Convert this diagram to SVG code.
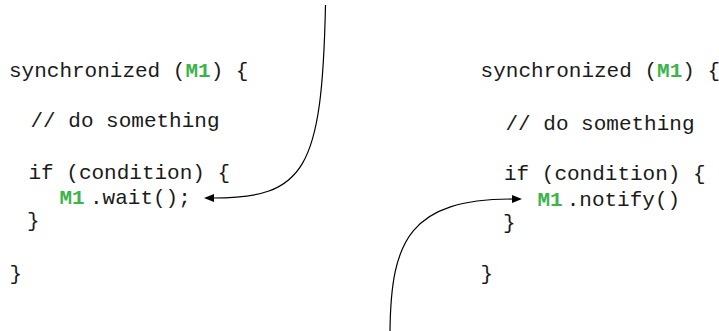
<svg xmlns="http://www.w3.org/2000/svg" width="719" height="331" viewBox="0 0 719 331">
<style>
  text { font-family: "Liberation Mono", "Courier New", monospace; font-size: 21px; fill: #1a1a1a; }
  .m { font-weight: bold; fill: #3cb44b; }
  .conn { fill: none; stroke: #000; stroke-width: 1.2; }
</style>
<defs>
  <marker id="ah" viewBox="0 0 10 10" refX="1" refY="5" markerWidth="10" markerHeight="10" markerUnits="userSpaceOnUse" orient="auto">
    <path d="M0,1 L10,5 L0,9 Z" fill="#000"/>
  </marker>
</defs>
<rect width="719" height="331" fill="#fff"/>
<g id="left-block">
  <text x="9" y="77">synchronized (<tspan class="m">M1</tspan>) {</text>
  <text x="30.5" y="127">// do something</text>
  <text x="28.5" y="179">if (condition) {</text>
  <text x="59.5" y="204" class="m">M1</text>
  <text x="90" y="204">.wait();</text>
  <text x="27" y="227">}</text>
  <text x="9.5" y="280">}</text>
</g>
<g id="right-block">
  <text x="480.6" y="77">synchronized (<tspan class="m">M1</tspan>) {</text>
  <text x="505.5" y="130">// do something</text>
  <text x="504" y="180">if (condition) {</text>
  <text x="537.5" y="206" class="m">M1</text>
  <text x="566.7" y="206">.notify()</text>
  <text x="503" y="228.5">}</text>
  <text x="480.5" y="280">}</text>
</g>
<g id="connectors">
  <path class="conn" d="M325.5 5 C322 170, 305 198, 213 198" marker-end="url(#ah)"/>
  <path class="conn" d="M390 331 C391 240, 410 199, 513 199" marker-end="url(#ah)"/>
</g>
</svg>
